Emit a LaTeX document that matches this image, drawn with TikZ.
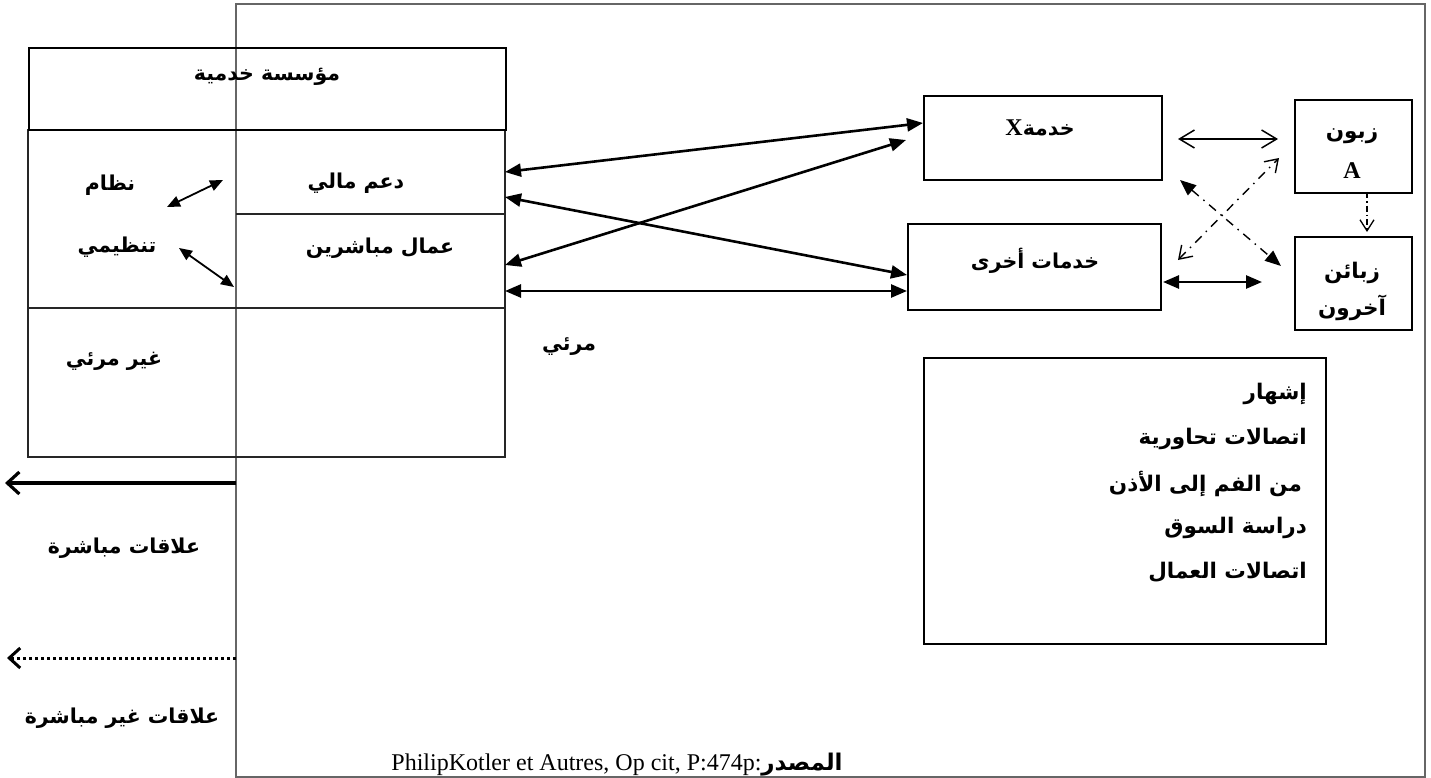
\documentclass[tikz,border=0pt]{standalone}
\usepackage{fontspec}
\setmainfont{Liberation Serif}
\newfontfamily\ar[Script=Arabic]{DejaVu Sans}
\TeXXeTstate=1
\usetikzlibrary{arrows.meta}
\tikzset{
  frameline/.style={draw=black!60, line width=1.3pt},
  tabline/.style={draw=black!85, line width=1.1pt},
  box/.style={draw, line width=1.8pt, anchor=north west, inner sep=0pt},
  lbl/.style={font=\ar\bfseries\fontsize{20.5}{24}\selectfont, inner sep=1pt, yshift=-2pt},
  lbig/.style={font=\ar\bfseries\fontsize{21.5}{25}\selectfont, inner sep=1pt, yshift=-2pt},
  lat/.style={font=\rmfamily\bfseries\fontsize{24}{28}\selectfont, inner sep=1pt},
  fhead/.style={{Triangle[length=16pt,width=13pt]}-{Triangle[length=16pt,width=13pt]}},
  dbl/.style={line width=2.6pt, fhead},
  dashdot/.style={line width=1.4pt, dash pattern=on 9pt off 6pt on 1.5pt off 6pt},
  ohead/.style={{Straight Barb[length=15pt,width=18pt]}-{Straight Barb[length=15pt,width=18pt]}},
}
\begin{document}
\begin{tikzpicture}[x=1pt,y=-1pt]
\useasboundingbox (0,0) rectangle (1431,778);

% outer frame
\draw[frameline] (236,4) rectangle (1425,777);

% left table
\draw[tabline] (28,129) -- (28,457) -- (505,457) -- (505,129);
\draw[tabline] (236,214) -- (505,214);
\draw[tabline] (28,308) -- (505,308);
\node[box, minimum width=477pt, minimum height=82pt] (head) at (28,47) {};
\node[lbl] (org) at (267,75) {\beginR مؤسسة خدمية\endR};
\node[lbl] (fin) at (356,181) {\beginR دعم مالي\endR};
\node[lbl] (staff) at (380,246) {\beginR عمال مباشرين\endR};
\node[lbl] (sys1) at (110,183) {\beginR نظام\endR};
\node[lbl] (sys2) at (117,245) {\beginR تنظيمي\endR};
\node[lbl] (invis) at (114,359) {\beginR غير مرئي\endR};
\node[lbl] (vis) at (569,345) {\beginR مرئي\endR};

% small arrows in table
\coordinate (s1a) at (167,207); \coordinate (s1b) at (223,180);
\coordinate (s2a) at (179,248); \coordinate (s2b) at (234,287);
\draw[line width=1.8pt, {Triangle[length=13pt,width=11pt]}-{Triangle[length=13pt,width=11pt]}] (s1a) -- (s1b);
\draw[line width=1.8pt, {Triangle[length=13pt,width=11pt]}-{Triangle[length=13pt,width=11pt]}] (s2a) -- (s2b);

% service boxes
\node[box, minimum width=238pt, minimum height=84pt] (X) at (923,95) {};
\node[lbl] (Xt) at (1040,126) {{\rmfamily\bfseries\fontsize{24}{28}\selectfont X}{\beginR خدمة\endR}};
\node[box, minimum width=253pt, minimum height=86pt] (other) at (907,223) {};
\node[lbl] (othert) at (1035,259) {\beginR خدمات أخرى\endR};

% customer boxes
\node[box, minimum width=117pt, minimum height=93pt] (A) at (1294,99) {};
\node[lbig] (At1) at (1352,134) {\beginR زبون\endR};
\node[lat] (At2) at (1352,171) {A};
\node[box, minimum width=117pt, minimum height=93pt] (B) at (1294,236) {};
\node[lbig] (Bt1) at (1352,271) {\beginR زبائن\endR};
\node[lbig] (Bt2) at (1352,306) {\beginR آخرون\endR};

% arrows table -> services
\coordinate (e1) at (505,172); \coordinate (e2) at (505,197);
\coordinate (e3) at (505,265); \coordinate (e4) at (505,291);
\coordinate (x1) at (923,123); \coordinate (x2) at (906,140);
\coordinate (o1) at (907,275); \coordinate (o2) at (907,291);
\draw[dbl] (e1) -- (x1);
\draw[dbl] (e2) -- (o1);
\draw[dbl] (e3) -- (x2);
\draw[dbl] (e4) -- (o2);

% arrows between services and customers
\coordinate (r1a) at (1178,139); \coordinate (r1b) at (1278,139);
\draw[line width=1.5pt, ohead] (r1a) -- (r1b);
\coordinate (r2a) at (1178,260); \coordinate (r2b) at (1279,158);
\draw[dashdot, {Straight Barb[length=12pt,width=16pt]}-{Straight Barb[length=12pt,width=16pt]}] (r2a) -- (r2b);
\coordinate (r3a) at (1180,180); \coordinate (r3b) at (1281,266);
\draw[dashdot, fhead] (r3a) -- (r3b);
\coordinate (r4a) at (1163,282); \coordinate (r4b) at (1262,282);
\draw[dbl] (r4a) -- (r4b);
\coordinate (r5a) at (1367,192); \coordinate (r5b) at (1367,232);
\draw[line width=1.3pt, dash pattern=on 6pt off 3pt on 1.5pt off 3pt, -{Straight Barb[length=11pt,width=14pt]}] (r5a) -- (r5b);

% communication list
\node[box, minimum width=402pt, minimum height=286pt] (list) at (923,357) {};
\node[lbig, anchor=east] (l1) at (1308,392) {\beginR إشهار\endR};
\node[lbig, anchor=east] (l2) at (1308,437) {\beginR اتصالات تحاورية\endR};
\node[lbig, anchor=east] (l3) at (1303,482) {\beginR من الفم إلى الأذن\endR};
\node[lbig, anchor=east] (l4) at (1308,526) {\beginR دراسة السوق\endR};
\node[lbig, anchor=east] (l5) at (1308,570) {\beginR اتصالات العمال\endR};

% legend
\coordinate (d1a) at (236,483); \coordinate (d1b) at (5,483);
\draw[line width=3.2pt, -{Straight Barb[length=12pt,width=22pt]}] (d1a) -- (d1b);
\node[lbl] (dir) at (124,546) {\beginR علاقات مباشرة\endR};
\coordinate (d2a) at (236,658); \coordinate (d2b) at (7,658);
\draw[line width=3pt, dash pattern=on 3pt off 3pt, -{Straight Barb[length=11pt,width=20pt]}] (d2a) -- (d2b);
\node[lbl] (indir) at (122,716) {\beginR علاقات غير مباشرة\endR};

% source
\node[anchor=base, inner sep=0pt, font=\fontsize{24}{28}\selectfont] (src) at (617,770) {PhilipKotler et Autres, Op cit, P:474p:{\ar\bfseries\fontsize{23}{28}\selectfont\beginR المصدر\endR}};
\end{tikzpicture}
\end{document}
